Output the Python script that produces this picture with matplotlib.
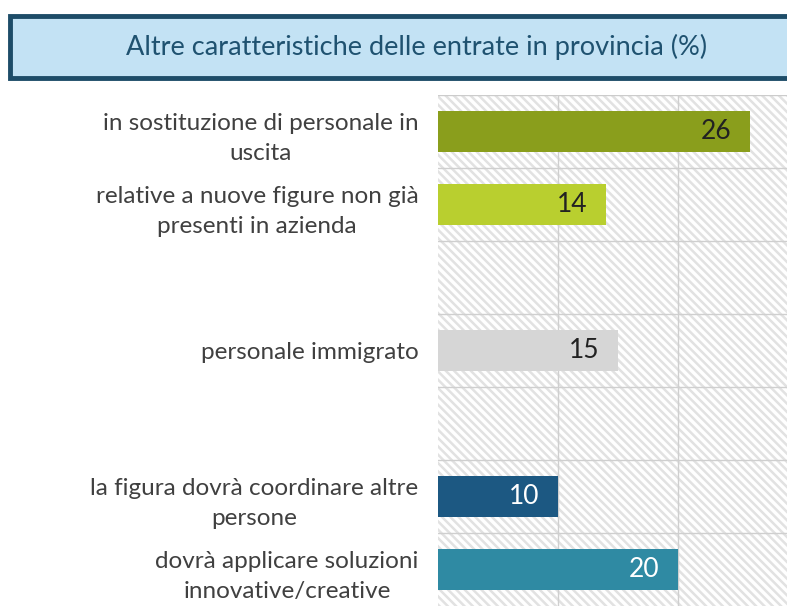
import numpy as np
import matplotlib.pyplot as plt
from matplotlib.patches import Rectangle

plt.rcParams['font.family'] = ['Lato', 'DejaVu Sans']
plt.rcParams['hatch.linewidth'] = 1.8

# categorie (stringa vuota = riga di separazione)
categorie = ["in sostituzione di personale in\nuscita",
             "relative a nuove figure non già\npresenti in azienda",
             "",
             "personale immigrato",
             "",
             "la figura dovrà coordinare altre\npersone",
             "dovrà applicare soluzioni\ninnovative/creative"]
valori = [26, 14, None, 15, None, 10, 20]
colori = ["#8a9e1c", "#b9cf2f", None, "#d6d6d6", None, "#1c5882", "#2f8aa3"]
colori_testo = ["#222222", "#222222", None, "#222222", None, "white", "white"]
titolo = "Altre caratteristiche delle entrate in provincia (%)"

fig = plt.figure(figsize=(7.87, 6.06), dpi=100)
ax = fig.add_axes([438/787, 0, 1 - 438/787, 1 - 95/606])

# sfondo tratteggiato
ax.add_patch(Rectangle((0, 0), 1, 1, transform=ax.transAxes, facecolor='white',
                       edgecolor='#e2e2e2', hatch='\\\\\\\\', lw=0, zorder=0))

y = np.arange(len(categorie))
for i, v in enumerate(valori):
    if v is None:
        continue
    ax.barh(y[i], v, height=0.55, color=colori[i], zorder=3)
    ax.annotate(str(v), (v, y[i]), xytext=(-13, 0), textcoords='offset points',
                ha='right', va='center', fontsize=19, color=colori_testo[i], zorder=4)

ax.set_xlim(0, 29.1)
ax.set_ylim(6.5, -0.5)
ax.set_yticks(y)
ax.set_yticklabels(categorie, fontsize=17.5, color='#404040', multialignment='center',
                   linespacing=1.55)
ax.tick_params(axis='y', length=0, pad=14)
ax.set_xticks([10, 20])
ax.tick_params(axis='x', length=0, labelbottom=False)
ax.set_yticks(np.arange(0.5, 6.5, 1), minor=True)
ax.tick_params(axis='y', which='minor', length=0)
ax.grid(axis='x', color='#cfcfcf', lw=1, zorder=1)
ax.grid(axis='y', which='minor', color='#cfcfcf', lw=1, zorder=1)
for s in ax.spines.values():
    s.set_visible(False)
ax.axhline(-0.5, color='#cccccc', lw=1, zorder=2)

# riquadro del titolo
fig.patches.append(Rectangle((10/787, 1 - 78/606), 1.0, 62/606, transform=fig.transFigure,
                             facecolor='#c3e2f4', edgecolor='#1d4c68', lw=3.5))
fig.text(417/787, 1 - 47/606, titolo, ha='center', va='center', fontsize=19.5,
         color='#1f5270')

fig.savefig('out.png', dpi=100)
